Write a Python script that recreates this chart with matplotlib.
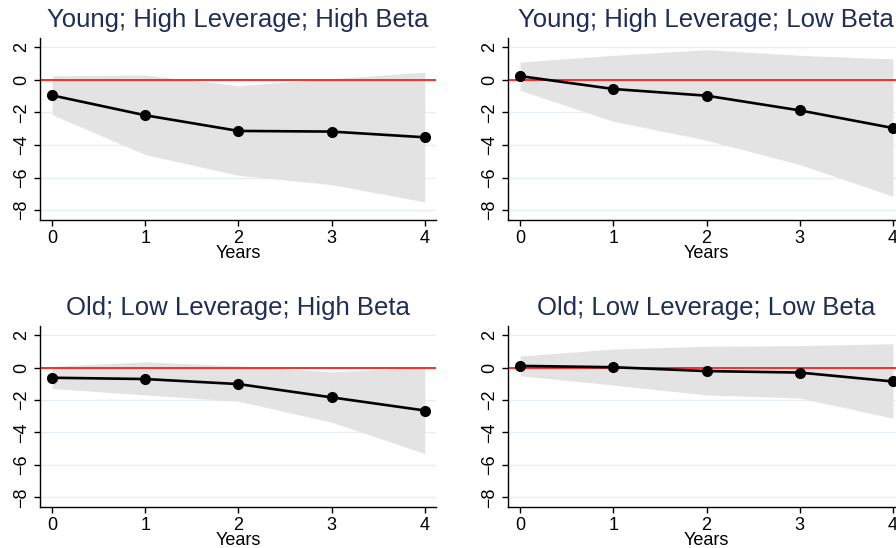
import matplotlib
matplotlib.use("Agg")
import matplotlib.pyplot as plt

plt.rcParams['font.family'] = ['Liberation Sans', 'DejaVu Sans']

YEARS = [0, 1, 2, 3, 4]

TITLES = ["Young; High Leverage; High Beta",
          "Young; High Leverage; Low Beta",
          "Old; Low Leverage; High Beta",
          "Old; Low Leverage; Low Beta"]

# point estimates
EST_YHH = [-0.96, -2.18, -3.14, -3.18, -3.53]
EST_YHL = [0.22, -0.57, -0.98, -1.88, -2.96]
EST_OLH = [-0.63, -0.71, -1.02, -1.84, -2.65]
EST_OLL = [0.10, 0.02, -0.22, -0.31, -0.86]

# confidence bands
UP_YHH = [0.24, 0.29, -0.37, 0.06, 0.47]
LO_YHH = [-2.14, -4.59, -5.86, -6.43, -7.49]
UP_YHL = [1.08, 1.49, 1.84, 1.49, 1.27]
LO_YHL = [-0.65, -2.55, -3.71, -5.20, -7.14]
UP_OLH = [0.08, 0.35, 0.10, -0.27, 0.00]
LO_OLH = [-1.29, -1.69, -2.08, -3.37, -5.31]
UP_OLL = [0.71, 1.14, 1.31, 1.35, 1.47]
LO_OLL = [-0.51, -1.08, -1.69, -1.88, -3.12]

ESTS = [EST_YHH, EST_YHL, EST_OLH, EST_OLL]
UPS = [UP_YHH, UP_YHL, UP_OLH, UP_OLL]
LOS = [LO_YHH, LO_YHL, LO_OLH, LO_OLL]

# axes rectangles in figure fraction (right column runs off the page, as in the source)
POSITIONS = [[0.0446, 0.5985, 0.442, 0.332],
             [0.5670, 0.5985, 0.442, 0.332],
             [0.0446, 0.0748, 0.442, 0.330],
             [0.5670, 0.0748, 0.442, 0.330]]

fig = plt.figure(figsize=(8.96, 5.48), dpi=100)

for i in range(4):
    ax = fig.add_axes(POSITIONS[i])
    ax.fill_between(YEARS, LOS[i], UPS[i], color='#e3e3e3', linewidth=0, zorder=1)
    ax.axhline(0, color='#ff2a2a', linewidth=1.4, zorder=2)
    ax.plot(YEARS, ESTS[i], color='black', linewidth=1.9, marker='o',
            markersize=7, zorder=3)
    ax.set_xlim(-0.13, 4.12)
    ax.set_ylim(-8.6, 2.55)
    ax.set_yticks([2, 0, -2, -4, -6, -8])
    ax.set_xticks(YEARS)
    ax.grid(axis='y', color='#e6eef2', linewidth=1.0, zorder=0)
    ax.set_axisbelow(True)
    for s in ['top', 'right']:
        ax.spines[s].set_visible(False)
    ax.spines['left'].set_linewidth(1.0)
    ax.spines['bottom'].set_linewidth(1.0)
    ax.tick_params(axis='both', direction='out', length=4, width=1.0, labelsize=13, pad=3)
    for lab in ax.get_yticklabels():
        lab.set_rotation(90)
        lab.set_va('center')
    ax.set_xlabel("Years", fontsize=13, labelpad=-1)
    ax.set_title(TITLES[i], fontsize=18.5, color='#1f2d57', pad=8)

fig.savefig("out.png", dpi=100)
